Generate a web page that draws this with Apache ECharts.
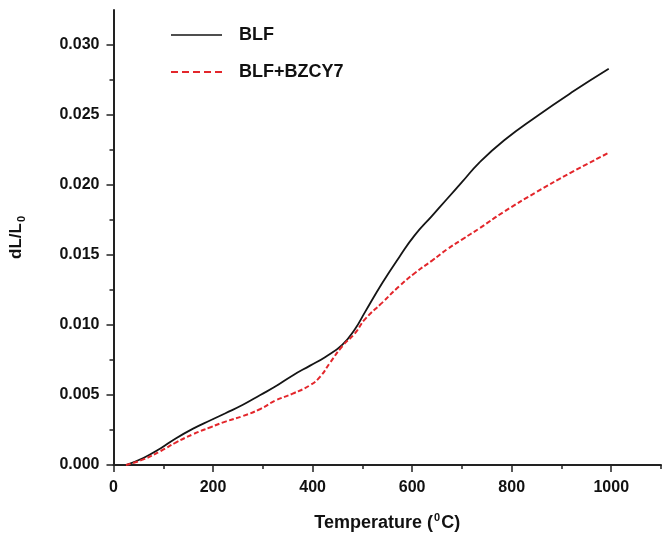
<!DOCTYPE html>
<html>
<head>
<meta charset="utf-8">
<script src="https://cdn.jsdelivr.net/npm/echarts@6/dist/echarts.min.js"></script>
<style>
html,body{margin:0;padding:0;background:#fff;}
#c{width:662px;height:537px;}
</style>
</head>
<body>
<div id="c"></div>
<script>
// Data
var blfTemp = [25, 60, 95, 125, 160, 195, 225, 260, 295, 325, 360, 395, 425, 460, 485, 505, 540, 575, 605, 640, 670, 700, 735, 785, 850, 920, 995];
var blfVal  = [0, 0.0005, 0.0012, 0.0019, 0.0026, 0.0032, 0.0037, 0.0043, 0.0050, 0.0056, 0.0064, 0.0071, 0.0077, 0.0086, 0.0097, 0.0109, 0.0130, 0.0149, 0.0164, 0.0178, 0.0190, 0.0202, 0.0216, 0.0232, 0.0249, 0.0266, 0.0283];
var bzTemp  = [25, 60, 95, 125, 160, 195, 225, 260, 295, 325, 360, 395, 415, 435, 460, 485, 505, 540, 575, 605, 640, 670, 700, 735, 785, 850, 920, 995];
var bzVal   = [0, 0.0004, 0.0010, 0.0016, 0.0022, 0.0027, 0.0031, 0.0035, 0.0040, 0.0046, 0.0051, 0.0057, 0.0063, 0.0073, 0.0085, 0.0094, 0.0104, 0.0116, 0.0128, 0.0137, 0.0146, 0.0154, 0.0161, 0.0169, 0.0181, 0.0195, 0.0209, 0.0223];
var seriesNames = ['BLF', 'BLF+BZCY7'];
var xMajorTicks = [0, 200, 400, 600, 800, 1000];
var xMinorTicks = [100, 300, 500, 700, 900, 1100];
var yMajorTicks = [0, 0.005, 0.010, 0.015, 0.020, 0.025, 0.030];
var yMinorTicks = [0.0025, 0.0075, 0.0125, 0.0175, 0.0225, 0.0275];

function pairs(xs, ys) { return xs.map(function (x, i) { return [x, ys[i]]; }); }

var FONT = '"Liberation Sans", Arial, Helvetica, sans-serif';
var TXT = '#111';
var AX = '#222';

var chart = echarts.init(document.getElementById('c'), null, {renderer: 'canvas'});
chart.setOption({
  animation: false,
  backgroundColor: '#fff',
  grid: {left: 113, right: 1, top: 10, bottom: 70, containLabel: false},
  legend: {
    show: true, padding: 0,
    orient: 'vertical', left: 170, top: 26, itemWidth: 51, itemHeight: 14, itemGap: 19,
    itemStyle: {opacity: 0},
    textStyle: {fontFamily: FONT, fontWeight: 'bold', fontSize: 18, color: TXT, padding: [0, 0, 0, 12]},
    data: [
      {name: seriesNames[0], lineStyle: {width: 1.5}},
      {name: seriesNames[1], lineStyle: {type: [7, 4], width: 2}}
    ]
  },
  xAxis: [{
    type: 'value', min: 0, max: 1100,
    name: '{a|Temperature (}{s|0}{a|C)}',
    nameLocation: 'middle', nameGap: 47,
    nameTextStyle: {rich: {
      a: {fontFamily: FONT, fontWeight: 'bold', fontSize: 18, color: TXT, lineHeight: 22},
      s: {fontFamily: FONT, fontWeight: 'bold', fontSize: 11, color: TXT, lineHeight: 22, verticalAlign: 'top', padding: [0, 1, 8, 1]}
    }},
    axisLine: {show: true, lineStyle: {color: AX, width: 2}},
    axisTick: {show: true, inside: false, length: 7, lineStyle: {color: AX, width: 1.5}, customValues: xMajorTicks},
    axisLabel: {customValues: xMajorTicks, margin: 15, fontFamily: FONT, fontWeight: 'bold', fontSize: 16, color: TXT,
      formatter: function (v) { return String(v); }},
    splitLine: {show: false}
  }, {
    type: 'value', min: 0, max: 1100, position: 'bottom', gridIndex: 0,
    axisLine: {show: false},
    axisTick: {show: true, length: 4, lineStyle: {color: AX, width: 1.5}, customValues: xMinorTicks},
    axisLabel: {show: false},
    splitLine: {show: false}
  }],
  yAxis: [{
    type: 'value', min: 0, max: 0.0325,
    name: '{a|dL/L}{s|0}',
    nameLocation: 'middle', nameGap: 86, nameRotate: 90,
    nameTextStyle: {rich: {
      a: {fontFamily: FONT, fontWeight: 'bold', fontSize: 17, color: TXT, lineHeight: 22},
      s: {fontFamily: FONT, fontWeight: 'bold', fontSize: 11, color: TXT, lineHeight: 22, verticalAlign: 'bottom', padding: [6, 0, 0, 1]}
    }},
    axisLine: {show: true, lineStyle: {color: AX, width: 2}},
    axisTick: {show: true, inside: false, length: 7, lineStyle: {color: AX, width: 1.5}, customValues: yMajorTicks},
    axisLabel: {customValues: yMajorTicks, margin: 14, fontFamily: FONT, fontWeight: 'bold', fontSize: 16, color: TXT,
      formatter: function (v) { return v.toFixed(3); }},
    splitLine: {show: false}
  }, {
    type: 'value', min: 0, max: 0.0325, position: 'left',
    axisLine: {show: false},
    axisTick: {show: true, length: 4, lineStyle: {color: AX, width: 1.5}, customValues: yMinorTicks},
    axisLabel: {show: false},
    splitLine: {show: false}
  }],
  series: [{
    name: seriesNames[0], type: 'line', xAxisIndex: 0, yAxisIndex: 0,
    data: pairs(blfTemp, blfVal), showSymbol: false, symbol: 'none', smooth: 0.5,
    lineStyle: {color: '#151515', width: 1.8},
    itemStyle: {color: '#151515'}
  }, {
    name: seriesNames[1], type: 'line', xAxisIndex: 0, yAxisIndex: 0,
    data: pairs(bzTemp, bzVal), showSymbol: false, symbol: 'none', smooth: 0.5,
    lineStyle: {color: '#e3262b', width: 2, type: [5, 2.5]},
    itemStyle: {color: '#e3262b'}
  }]
});
</script>
</body>
</html>
